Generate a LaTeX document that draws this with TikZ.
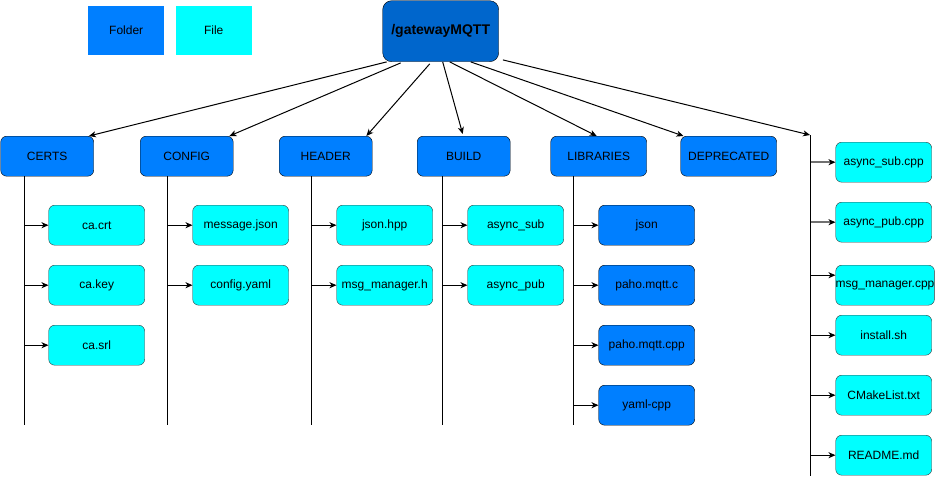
\documentclass[tikz,border=0pt]{standalone}
\usepackage{fontspec}
\setmainfont{Liberation Sans}
\usetikzlibrary{arrows.meta}
\definecolor{folderblue}{HTML}{007FFF}
\definecolor{rootblue}{HTML}{0066CC}
\definecolor{filecyan}{HTML}{00FFFF}
\definecolor{filestroke}{HTML}{36393D}
\definecolor{linegray}{HTML}{707070}
\tikzset{
  every node/.style={font=\fontsize{12pt}{14pt}\selectfont, inner sep=0pt, anchor=north west},
  folderbox/.style={draw=black, fill=folderblue, rounded corners=6pt, minimum width=96pt, minimum height=40pt},
  topfolder/.style={folderbox, minimum width=93pt},
  filebox/.style={draw=filestroke, fill=filecyan, rounded corners=6pt, minimum width=96pt, minimum height=40pt},
  legendbox/.style={minimum width=76pt, minimum height=49pt},
  rootbox/.style={draw=black, fill=rootblue, rounded corners=9pt, minimum width=116pt, minimum height=61pt, font=\fontsize{14pt}{16pt}\selectfont\bfseries},
  conn/.style={line width=1pt, -{Stealth[length=7pt,width=6pt,inset=2pt]}},
  grayconn/.style={line width=2pt, draw=linegray, -{Stealth[length=7pt,width=6pt,inset=2pt,black,line width=1pt]}},
  trunk/.style={line width=1pt},
}
\begin{document}
\begin{tikzpicture}[x=1pt,y=-1pt]
\useasboundingbox (0,0) rectangle (935,477);
% legend
\node[legendbox, fill=folderblue] (lfolder) at (88,6) {Folder};
\node[legendbox, fill=filecyan] (lfile) at (175.5,6) {File};
% root
\node[rootbox] (root) at (382.5,0.5) {/gatewayMQTT};
% folders
\node[topfolder] (certs) at (0.5,136) {CERTS};
\node[topfolder] (config) at (140,136) {CONFIG};
\node[topfolder] (header) at (279,136) {HEADER};
\node[topfolder] (build) at (417,136) {BUILD};
\node[folderbox] (libs) at (550.5,136) {LIBRARIES};
\node[folderbox] (depr) at (680.5,136) {DEPRECATED};
\coordinate (rtop) at (810,135);
\coordinate (rend) at (810,476);
% trunk ends
\coordinate (certsEnd) at (24,425);
\coordinate (configEnd) at (167.7,425);
\coordinate (headerEnd) at (311.7,425);
\coordinate (buildEnd) at (442.5,425);
\coordinate (libsEnd) at (573.5,425);
% certs children
\node[filebox] (cacrt) at (48.5,205) {ca.crt};
\node[filebox] (cakey) at (48.5,265) {ca.key};
\node[filebox] (casrl) at (48.5,325) {ca.srl};
% config children
\node[filebox] (msgjson) at (192.5,205) {message.json};
\node[filebox] (cfgyaml) at (192.5,265) {config.yaml};
% header children
\node[filebox] (jsonhpp) at (336.5,205) {json.hpp};
\node[filebox] (msgh) at (336.5,265) {msg\_manager.h};
% build children
\node[filebox] (asub) at (467.5,205) {async\_sub};
\node[filebox] (apub) at (467.5,265) {async\_pub};
% libraries children
\node[folderbox] (ljson) at (598.5,205) {json};
\node[folderbox] (pahoc) at (598.5,265) {paho.mqtt.c};
\node[folderbox] (pahocpp) at (598.5,325) {paho.mqtt.cpp};
\node[folderbox] (yamlcpp) at (598.5,385) {yaml-cpp};
% right column files
\node[filebox] (asubcpp) at (835.5,142) {async\_sub.cpp};
\node[filebox] (apubcpp) at (835.5,202) {async\_pub.cpp};
\node[filebox] (msgcpp) at (835.5,265) {msg\_manager.cpp};
\node[filebox] (install) at (835.5,315) {install.sh};
\node[filebox] (cmake) at (835.5,375) {CMakeList.txt};
\node[filebox] (readme) at (835.5,435) {README.md};
% root connectors
\draw[conn] ([xshift=-54pt]root.south) -- ([xshift=-5pt]certs.north east);
\draw[conn] ([xshift=-40pt,yshift=-1pt]root.south) -- ([xshift=-4pt]config.north east);
\draw[conn] ([xshift=-11pt,yshift=-2pt]root.south) -- ([xshift=-6pt]header.north east);
\draw[conn] ([xshift=2pt]root.south) -- ([xshift=-1pt,yshift=2pt]build.north);
\draw[conn] ([xshift=9pt]root.south) -- ([xshift=-2pt]libs.north);
\draw[conn] ([xshift=30pt]root.south) -- ([xshift=3pt]depr.north west);
\draw[conn] ([xshift=4pt,yshift=2pt]root.south east) -- (rtop);
% trunks
\draw[trunk] (certs.south -| certsEnd) -- (certsEnd);
\draw[trunk] (config.south -| configEnd) -- (configEnd);
\draw[trunk] (header.south -| headerEnd) -- (headerEnd);
\draw[trunk] (build.south -| buildEnd) -- (buildEnd);
\draw[trunk] (libs.south -| libsEnd) -- (libsEnd);
\draw[trunk] (rtop) -- (rend);
% branches
\foreach \c in {cacrt,cakey,casrl} \draw[conn] (\c.west -| certsEnd) -- (\c.west);
\foreach \c in {msgjson,cfgyaml} \draw[conn] (\c.west -| configEnd) -- (\c.west);
\foreach \c in {jsonhpp,msgh} \draw[conn] (\c.west -| headerEnd) -- (\c.west);
\foreach \c in {asub,apub} \draw[conn] (\c.west -| buildEnd) -- (\c.west);
\foreach \c in {ljson,pahoc,pahocpp,yamlcpp} \draw[conn] (\c.west -| libsEnd) -- (\c.west);
\foreach \c in {asubcpp,apubcpp} \draw[grayconn] ([xshift=0.5pt]\c.west -| rtop) -- (\c.west);
\draw[conn] ([yshift=10pt]msgcpp.west -| rtop) -- ([yshift=10pt]msgcpp.west);
\foreach \c in {install,cmake,readme} \draw[conn] (\c.west -| rtop) -- (\c.west);
\end{tikzpicture}
\end{document}
